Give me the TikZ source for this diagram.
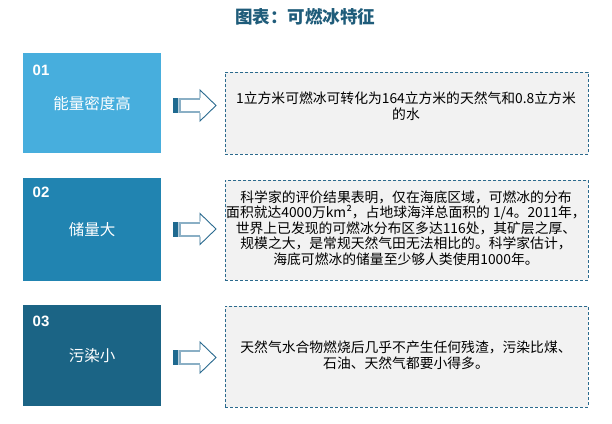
\documentclass[tikz,border=0pt]{standalone}
\usepackage{fontspec}
\setmainfont{Liberation Sans}
\newfontfamily\cjk{Noto Sans CJK SC}
\definecolor{cone}{HTML}{47AEDD}
\definecolor{ctwo}{HTML}{2184B1}
\definecolor{cthree}{HTML}{1B6485}
\definecolor{ctitle}{HTML}{1F5C7A}
\definecolor{cdash}{HTML}{2B6A8D}
\definecolor{cbg}{HTML}{F2F2F2}
\definecolor{cshaft}{HTML}{8AAFC5}
\definecolor{chead}{HTML}{2A6A8F}
\definecolor{cbar}{HTML}{1F6A90}
\tikzset{
  x=1bp,y=-1bp,
  leftbox/.style={draw=none,minimum width=138bp,anchor=north west,inner sep=0},
  rightbox/.style={draw=cdash,fill=cbg,line width=0.9bp,dash pattern=on 3bp off 2bp,minimum width=363bp,anchor=north west,inner sep=0},
  numlabel/.style={text=white,font=\fontsize{15bp}{15bp}\selectfont\bfseries,anchor=west,inner sep=0},
  titlelabel/.style={text=white,font=\cjk\fontsize{15.5bp}{16bp}\selectfont,inner sep=0},
  desc/.style={text=black,font=\cjk\fontsize{13.8bp}{15.6bp}\selectfont,align=center,inner sep=0},
}
\newcommand{\myarrow}[1]{%
  \fill[cbar] (173,#1-7.5) rectangle (177.5,#1+7.5);
  \fill[cshaft!60] (177.5,#1-7.5) rectangle (179,#1+7.5);
  \draw[cshaft,line width=2bp,fill=white] (180,#1-6.5) rectangle (201,#1+6.5);
  \fill[white] (200,#1-5.5) -- (200,#1-15.5) -- (216,#1) -- (200,#1+15.5) -- (200,#1+5.5) -- cycle;
  \draw[chead,line width=0.9bp] (200,#1-7.5) -- (200,#1-15.5) -- (216,#1) -- (200,#1+15.5) -- (200,#1+7.5);
}
\begin{document}
\begin{tikzpicture}
\useasboundingbox (0,0) rectangle (612,423);
\fill[white] (0,0) rectangle (612,423);

\node[text=ctitle,font=\cjk\bfseries\fontsize{17.5bp}{18bp}\selectfont,inner sep=0] (title) at (305,17) {图表：可燃冰特征};

% left boxes
\node[leftbox,fill=cone,minimum height=100bp] (L1) at (23,53) {};
\node[leftbox,fill=ctwo,minimum height=103bp] (L2) at (23,178) {};
\node[leftbox,fill=cthree,minimum height=101bp] (L3) at (23,305) {};

\node[numlabel] (n1) at (32.5,70) {01};
\node[numlabel] (n2) at (32.5,192) {02};
\node[numlabel] (n3) at (32.5,321) {03};

\node[titlelabel] (t1) at (92,104) {能量密度高};
\node[titlelabel] (t2) at (92,230) {储量大};
\node[titlelabel] (t3) at (92,356) {污染小};

% right boxes
\node[rightbox,minimum height=82bp] (R1) at (225,72) {};
\node[rightbox,minimum height=100bp] (R2) at (225,180) {};
\node[rightbox,minimum height=101bp] (R3) at (225,306) {};

\node[desc] (d1) at (406,106) {1立方米可燃冰可转化为164立方米的天然气和0.8立方米\\的水};
\node[desc] (d2) at (406,228) {科学家的评价结果表明，仅在海底区域，可燃冰的分布\\面积就达4000万km²，占地球海洋总面积的 1/4。2011年，\\世界上已发现的可燃冰分布区多达116处，其矿层之厚、\\规模之大，是常规天然气田无法相比的。科学家估计，\\海底可燃冰的储量至少够人类使用1000年。};
\node[desc] (d3) at (406,355) {天然气水合物燃烧后几乎不产生任何残渣，污染比煤、\\石油、天然气都要小得多。};

% arrows
\myarrow{105.5}
\myarrow{229}
\myarrow{357.5}
\end{tikzpicture}
\end{document}
